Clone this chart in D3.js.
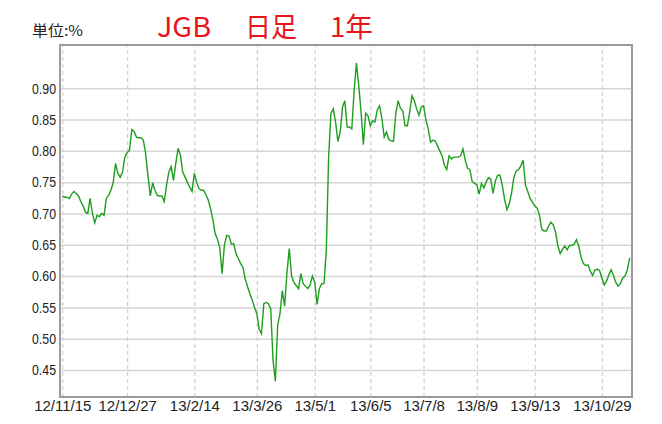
<!DOCTYPE html>
<html><head><meta charset="utf-8">
<script src="https://cdn.jsdelivr.net/npm/d3@7"></script>
<style>body{margin:0;background:#fff} svg{display:block}</style>
</head><body><svg id="c" width="662" height="424"></svg>
<script>
// JGB daily yield (%), one value per trading day, 2012/11/15 .. 2013/11
const values = [
0.728,0.726,0.726,0.724,0.731,0.735,0.732,0.728,0.719,0.712,
0.702,0.700,0.724,0.700,0.685,0.697,0.695,0.700,0.697,0.724,
0.729,0.737,0.750,0.780,0.764,0.758,0.766,0.790,0.797,0.801,
0.834,0.831,0.822,0.821,0.821,0.817,0.795,0.760,0.728,0.749,
0.737,0.729,0.728,0.728,0.719,0.745,0.766,0.775,0.753,0.780,
0.804,0.793,0.766,0.758,0.750,0.742,0.735,0.764,0.750,0.740,
0.737,0.737,0.730,0.722,0.708,0.690,0.668,0.659,0.645,0.604,
0.650,0.665,0.664,0.651,0.652,0.636,0.628,0.620,0.614,0.595,
0.583,0.572,0.562,0.550,0.540,0.515,0.508,0.556,0.558,0.556,
0.548,0.465,0.432,0.522,0.540,0.577,0.552,0.605,0.644,0.600,
0.590,0.585,0.580,0.604,0.588,0.584,0.580,0.586,0.600,0.590,
0.555,0.580,0.588,0.588,0.640,0.790,0.860,0.867,0.846,0.815,
0.830,0.870,0.880,0.838,0.838,0.835,0.895,0.940,0.905,0.862,
0.810,0.860,0.856,0.840,0.848,0.846,0.865,0.872,0.852,0.822,
0.830,0.818,0.816,0.815,0.860,0.880,0.868,0.864,0.840,0.840,
0.862,0.888,0.880,0.867,0.857,0.870,0.872,0.850,0.835,0.814,
0.817,0.816,0.808,0.800,0.792,0.777,0.770,0.792,0.787,0.790,
0.790,0.790,0.792,0.803,0.785,0.772,0.770,0.751,0.748,0.746,
0.731,0.748,0.741,0.750,0.757,0.755,0.732,0.752,0.761,0.761,
0.745,0.722,0.706,0.715,0.733,0.758,0.768,0.770,0.776,0.785,
0.745,0.735,0.724,0.718,0.712,0.709,0.698,0.675,0.672,0.672,
0.680,0.686,0.682,0.670,0.648,0.636,0.643,0.648,0.642,0.649,
0.649,0.651,0.658,0.648,0.630,0.620,0.617,0.618,0.608,0.601,
0.610,0.611,0.609,0.597,0.586,0.592,0.602,0.610,0.601,0.590,
0.584,0.588,0.597,0.600,0.610,0.629
];
// trading-day index of each date label
const tickIndex  = [0, 28, 57, 84, 109, 133, 156, 179, 204, 233];
const tickLabels = ["12/11/15","12/12/27","13/2/14","13/3/26","13/5/1","13/6/5","13/7/8","13/8/9","13/9/13","13/10/29"];
const yTicks = [0.45,0.50,0.55,0.60,0.65,0.70,0.75,0.80,0.85,0.90];
const titleParts = ["JGB","日足","1年"];
const unitLabel = "単位:%";

const svg = d3.select("#c");
const L = 60, T = 45, R = 632, B = 397;
const x = d3.scaleLinear().domain([-1, values.length]).range([L, R]);
const y = d3.scaleLinear().domain([0.407, 0.969]).range([B, T]);
const font = "'Liberation Sans', Arial, sans-serif";

// horizontal grid + y labels
svg.append("g").attr("transform", `translate(${L},0)`)
  .call(d3.axisLeft(y).tickValues(yTicks).tickSize(-(R - L)).tickPadding(4).tickFormat(d3.format(".2f")))
  .call(g => {
    g.select(".domain").remove();
    g.selectAll(".tick line").attr("stroke", "#d6d6d6").attr("stroke-width", 1.5);
    g.selectAll(".tick text").attr("fill", "#222").attr("font-size", 15)
      .attr("font-family", font).attr("textLength", 24).attr("lengthAdjust", "spacingAndGlyphs");
  });

// vertical dashed grid + x labels
svg.append("g").attr("transform", `translate(0,${B})`)
  .call(d3.axisBottom(x).tickValues(tickIndex).tickSize(-(B - T)).tickPadding(3)
        .tickFormat((d, i) => tickLabels[i]))
  .call(g => {
    g.select(".domain").remove();
    g.selectAll(".tick line").attr("stroke", "#cfcfcf").attr("stroke-width", 1.2)
      .attr("stroke-dasharray", "4,3");
    g.selectAll(".tick text").attr("fill", "#222").attr("font-size", 15).attr("font-family", font);
  });

// series line
const line = d3.line().x((d, i) => x(i)).y(d => y(d));
svg.append("path").datum(values).attr("d", line)
  .attr("fill", "none").attr("stroke", "#1e9e1e").attr("stroke-width", 1.4)
  .attr("stroke-linejoin", "miter");

// frame
svg.append("rect").attr("x", L).attr("y", T).attr("width", R - L).attr("height", B - T)
  .attr("fill", "none").attr("stroke", "#9a9a9a").attr("stroke-width", 2);

// unit label
svg.append("text").attr("x", 32).attr("y", 36).text(unitLabel)
  .attr("font-size", 15).attr("fill", "#222").attr("font-family", "'Noto Sans CJK JP', sans-serif")
  .attr("textLength", 51).attr("lengthAdjust", "spacingAndGlyphs");

// title
const titleX = [157, 245, 330];
const titleW = [54, 52, 43];
svg.selectAll("text.title").data(titleParts).join("text").attr("class", "title")
  .attr("x", (d, i) => titleX[i]).attr("y", 37).text(d => d)
  .attr("textLength", (d, i) => titleW[i]).attr("lengthAdjust", "spacingAndGlyphs")
  .attr("font-size", 27).attr("fill", "#e8141c").attr("font-family", "'Noto Sans CJK JP', sans-serif");
</script></body></html>
